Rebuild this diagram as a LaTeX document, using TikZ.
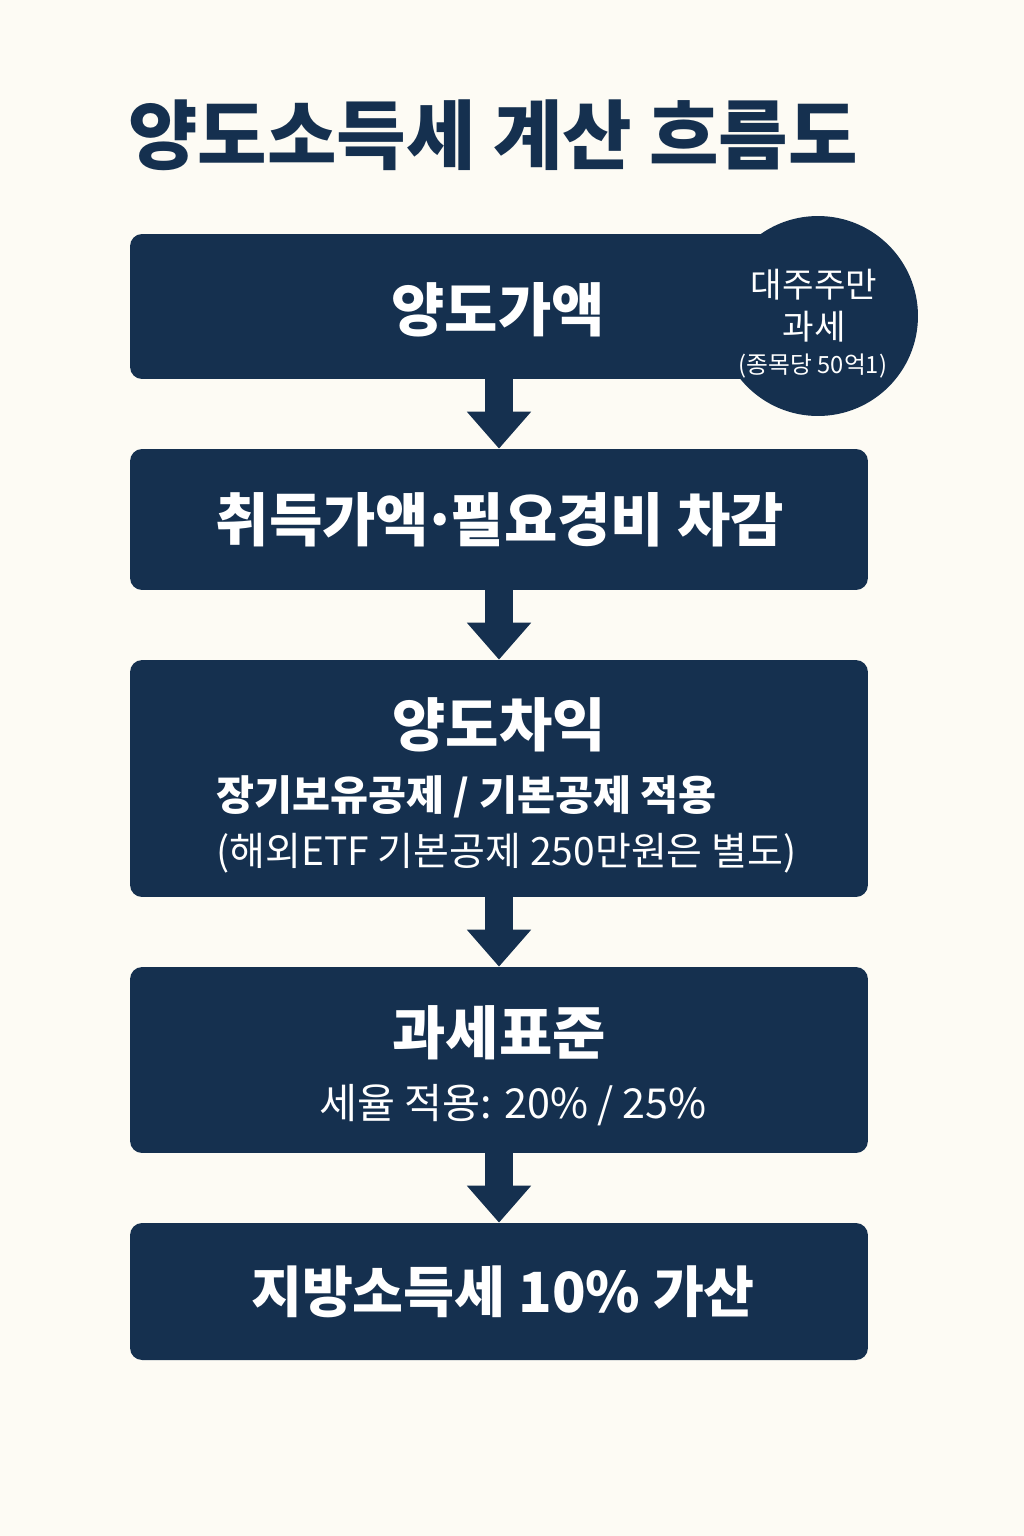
\documentclass[tikz,border=0pt]{standalone}
\usepackage{fontspec}
\setmainfont{Noto Sans CJK KR}
\usetikzlibrary{arrows.meta,positioning}
\definecolor{boxnavy}{RGB}{21,48,79}
\definecolor{papercream}{RGB}{253,251,244}

\begin{document}
\begin{tikzpicture}[x=0.02cm, y=-0.02cm,
  box/.style={fill=boxnavy, rounded corners=0.24cm, minimum width=14.76cm, inner sep=0pt},
  big/.style={text=white, inner sep=0pt, font=\fontsize{33}{38}\selectfont\bfseries},
  mid/.style={text=white, inner sep=0pt, font=\fontsize{23.5}{28}\selectfont\bfseries},
  note/.style={text=white, inner sep=0pt, font=\fontsize{23.5}{28}\selectfont},
  arr/.style={-{Triangle[width=1.24cm, length=0.74cm]}, line width=0.56cm, draw=boxnavy}
]
\fill[papercream] (0,0) rectangle (1024,1536);
\useasboundingbox (0,0) rectangle (1024,1536);

\node[anchor=west, inner sep=0pt, text=boxnavy, font=\fontsize{43}{48}\selectfont\bfseries] (title) at (128,135) {양도소득세 계산 흐름도};

\node[box, minimum height=2.9cm] (sale) at (499,306.5) {};
\node[box, minimum height=2.82cm] (cost) at (499,519.5) {};
\node[box, minimum height=4.74cm] (gain) at (499,778.5) {};
\node[box, minimum height=3.72cm] (base) at (499,1060) {};
\node[box, minimum height=2.74cm] (local) at (499,1291.5) {};

\node[circle, fill=boxnavy, minimum size=4cm] (major) at (818,316) {};

\draw[arr] (sale.south) -- (cost.north);
\draw[arr] (cost.south) -- (gain.north);
\draw[arr] (gain.south) -- (base.north);
\draw[arr] (base.south) -- (local.north);

% texts in the boxes
\node[big] (saletxt) at (498,310) {양도가액};
\node[text=white, inner sep=0pt, font=\fontsize{19.5}{22}\selectfont] (majora) at (814,285) {대주주만};
\node[text=white, inner sep=0pt, font=\fontsize{19.5}{22}\selectfont] (majorb) at (814,327) {과세};
\node[text=white, inner sep=0pt, font=\fontsize{13.5}{16}\selectfont] (majorc) at (813,366) {(종목당 50억1)};

\node[big] (costtxt) at (500,520) {취득가액\kern-0.12em·\kern-0.12em필요경비 차감};

\node[big] (gaintxt) at (499,725) {양도차익};
\node[mid, anchor=west] (gaina) at (216,797) {장기보유공제 / 기본공제 적용};
\node[note, anchor=west, font=\fontsize{22.2}{26}\selectfont] (gainb) at (216,853) {(해외ETF 기본공제 250만원은 별도)};

\node[big] (basetxt) at (499,1033) {과세표준};
\node[note] (basea) at (513,1105) {세율 적용: 20\% / 25\%};

\node[big, font=\fontsize{31.5}{36}\selectfont\bfseries] (localtxt) at (503,1292) {지방소득세 10\% 가산};
\end{tikzpicture}
\end{document}
